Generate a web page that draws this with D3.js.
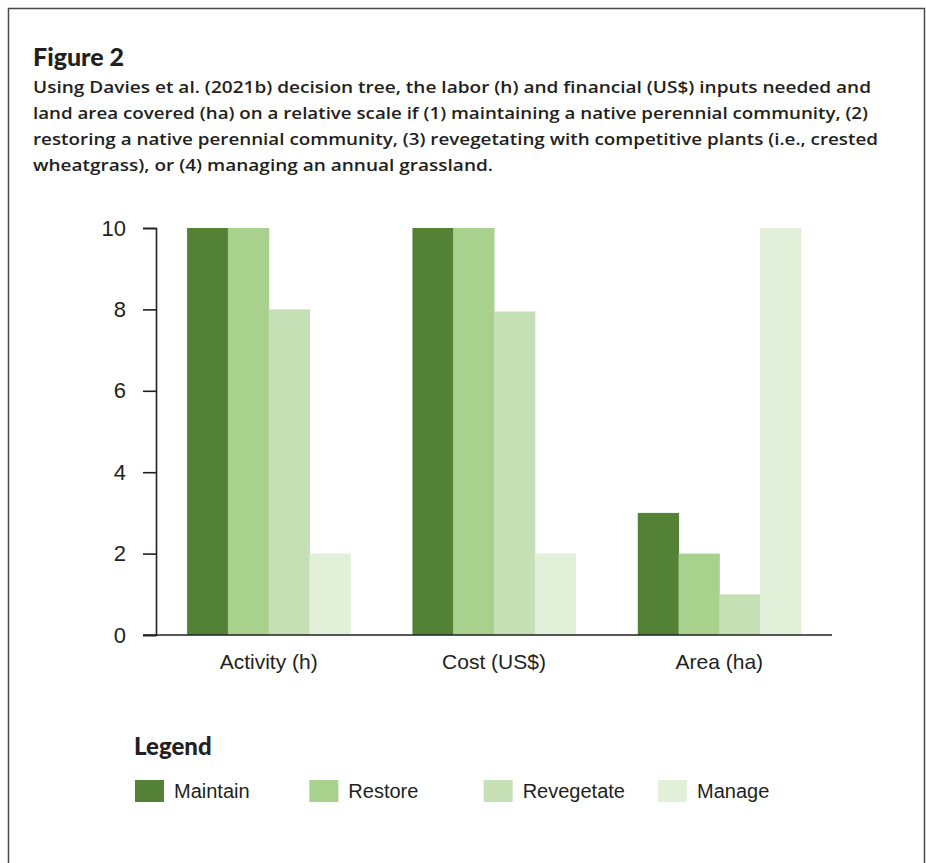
<!DOCTYPE html>
<html>
<head>
<meta charset="utf-8">
<script src="https://cdn.jsdelivr.net/npm/d3@7"></script>
<style>
  html, body { margin: 0; padding: 0; background: #fff; }
  svg { display: block; }
</style>
</head>
<body>
<svg id="chart" width="926" height="863"></svg>
<script>
const categories = ["Activity (h)", "Cost (US$)", "Area (ha)"];
const seriesNames = ["Maintain", "Restore", "Revegetate", "Manage"];
const maintainValues = [10, 10, 3];
const restoreValues = [10, 10, 2];
const revegetateValues = [8, 7.95, 1];
const manageValues = [2, 2, 10];
const yTicks = [0, 2, 4, 6, 8, 10];
const titleText = "Figure 2";
const subtitleLines = [
  "Using Davies et al. (2021b) decision tree, the labor (h) and financial (US$) inputs needed and",
  "land area covered (ha) on a relative scale if (1) maintaining a native perennial community, (2)",
  "restoring a native perennial community, (3) revegetating with competitive plants (i.e., crested",
  "wheatgrass), or (4) managing an annual grassland."
];
const legendTitle = "Legend";

const seriesValues = [maintainValues, restoreValues, revegetateValues, manageValues];
const colors = ["#538135", "#A9D18E", "#C5E0B4", "#E2F0D9"];

const svg = d3.select("#chart");

// frame
svg.append("path")
  .attr("d", "M8.5,880V8.5H924.5V880")
  .attr("fill", "none")
  .attr("stroke", "#4a4a4a")
  .attr("stroke-width", 1.5);

// title
svg.append("text")
  .attr("x", 33).attr("y", 66)
  .attr("font-family", "Lato, 'Open Sans', sans-serif")
  .attr("font-weight", 900)
  .attr("font-size", 25)
  .attr("fill", "#231f20")
  .text(titleText);

const lineEnds = [871, 868, 878, 493];
subtitleLines.forEach((t, i) => {
  svg.append("text")
    .attr("x", 33).attr("y", 93 + i * 26)
    .attr("font-family", "'Open Sans', 'Noto Sans', sans-serif")
    .attr("font-weight", 600)
    .attr("font-size", 17)
    .attr("fill", "#231f20")
    .attr("textLength", lineEnds[i] - 33)
    .attr("lengthAdjust", "spacingAndGlyphs")
    .text(t);
});

// scales
const x0 = d3.scaleBand()
  .domain(categories)
  .range([156, 832])
  .paddingInner(0.276)
  .paddingOuter(0.138);

const x1 = d3.scaleBand()
  .domain(seriesNames)
  .range([0, x0.bandwidth()])
  .padding(0);

const y = d3.scaleLinear().domain([0, 10]).range([635, 228]);

// bars
const groups = svg.append("g").selectAll("g")
  .data(categories)
  .join("g")
  .attr("transform", d => `translate(${x0(d)},0)`);

groups.selectAll("rect")
  .data((c, ci) => seriesNames.map((s, si) => ({ s, si, v: seriesValues[si][ci] })))
  .join("rect")
  .attr("x", d => x1(d.s))
  .attr("width", x1.bandwidth() + 0.5)
  .attr("y", d => y(d.v))
  .attr("height", d => y(0) - y(d.v))
  .attr("fill", d => colors[d.si]);

// y axis
const yAxis = svg.append("g")
  .attr("transform", "translate(156,0)")
  .call(d3.axisLeft(y).tickValues(yTicks).tickFormat(d3.format("d"))
    .tickSize(13).tickPadding(17));
yAxis.selectAll("path, line").attr("stroke", "#231f20").attr("stroke-width", 1.6);
yAxis.selectAll("text")
  .attr("font-family", "'Liberation Sans', Arial, sans-serif")
  .attr("font-size", 22)
  .attr("fill", "#231f20");

// x axis
const xAxis = svg.append("g")
  .attr("transform", "translate(0,635)")
  .call(d3.axisBottom(x0).tickSize(0).tickPadding(19));
xAxis.select("path.domain")
  .attr("d", "M143,0H832")
  .attr("stroke", "#231f20")
  .attr("stroke-width", 1.6);
xAxis.selectAll("text")
  .attr("font-family", "'Liberation Sans', Arial, sans-serif")
  .attr("font-size", 21)
  .attr("fill", "#231f20");

// legend
svg.append("text")
  .attr("x", 134).attr("y", 755)
  .attr("font-family", "Lato, 'Open Sans', sans-serif")
  .attr("font-weight", 900)
  .attr("font-size", 24)
  .attr("fill", "#231f20")
  .text(legendTitle);

const legendX = d3.scalePoint().domain(seriesNames).range([135, 658]);
const lg = svg.append("g").selectAll("g")
  .data(seriesNames)
  .join("g")
  .attr("transform", d => `translate(${legendX(d)},780)`);
lg.append("rect")
  .attr("width", 29).attr("height", 22)
  .attr("fill", (d, i) => colors[i]);
lg.append("text")
  .attr("x", 39).attr("y", 18)
  .attr("font-family", "'Liberation Sans', Arial, sans-serif")
  .attr("font-size", 20)
  .attr("fill", "#231f20")
  .text(d => d);
</script>
</body>
</html>
